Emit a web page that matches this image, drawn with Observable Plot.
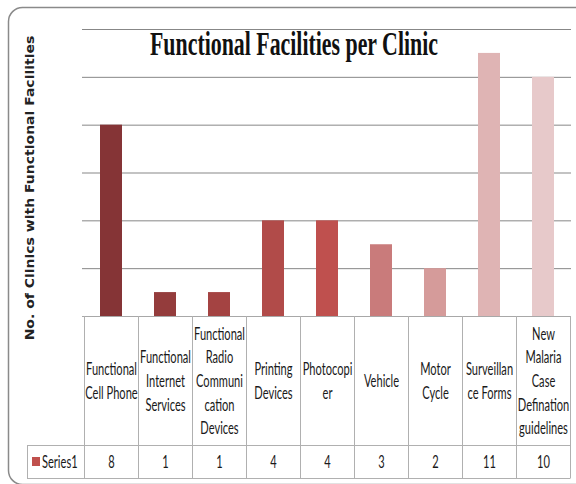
<!DOCTYPE html>
<html>
<head>
<meta charset="utf-8">
<script src="https://cdn.jsdelivr.net/npm/d3@7"></script>
<script src="https://cdn.jsdelivr.net/npm/@observablehq/plot@0.6"></script>
<style>
  html, body { margin: 0; padding: 0; background: #fff; }
  #chart { position: relative; width: 576px; height: 484px; overflow: hidden; }
</style>
</head>
<body>
<div id="chart"></div>
<script>
const categories = ["Functional Cell Phone", "Functional Internet Services", "Functional Radio Communication Devices", "Printing Devices", "Photocopier", "Vehicle", "Motor Cycle", "Surveillance Forms", "New Malaria Case Defination guidelines"];
const labelLines = ["Functional\nCell Phone", "Functional\nInternet\nServices", "Functional\nRadio\nCommuni\ncation\nDevices", "Printing\nDevices", "Photocopi\ner", "Vehicle", "Motor\nCycle", "Surveillan\nce Forms", "New\nMalaria\nCase\nDefination\nguidelines"];
const values = [8, 1, 1, 4, 4, 3, 2, 11, 10];
const barColors = ["#853436", "#943c3c", "#a44342", "#b14b49", "#bf504e", "#c97b7b", "#d59b9a", "#dfb4b4", "#e7c9ca"];
const gridTicks = [2, 4, 6, 8, 10, 12];
const seriesName = "Series1";
const seriesColor = "#c0504d";
const titleText = "Functional Facilities per Clinic";
const yLabelText = "No. of Clinics with Functional Facilities";

const data = categories.map((c, i) => ({cat: c, label: labelLines[i], value: values[i], color: barColors[i]}));

const W = 576, H = 484, mL = 82, mR = 5, mT = 29, mB = 168;
const frameBottom = H - mB;        // 316
const rowSplit = 445, tableBottom = 478, tableLeft = 27;
const bodyFont = "Lato, 'Open Sans', sans-serif";
const fs = 17;

const chart = Plot.plot({
  width: W, height: H,
  marginLeft: mL, marginRight: mR, marginTop: mT, marginBottom: mB,
  x: {domain: categories, padding: 0, axis: null},
  y: {domain: [0, 12], axis: null},
  color: {type: "identity"},
  style: {fontFamily: bodyFont, background: "#fff", color: "#222"},
  marks: [
    Plot.ruleY(gridTicks, {stroke: "#878787", strokeWidth: 1, strokeOpacity: 1}),
    Plot.barY(data, {x: "cat", y: "value", fill: "color", insetLeft: 16, insetRight: 16}),
    Plot.ruleY([0], {stroke: "#a8a8a8", strokeWidth: 1, strokeOpacity: 1}),
    Plot.text(data, {x: "cat", text: "label", frameAnchor: "bottom", dy: 63, lineAnchor: "middle",
      lineHeight: 23.6 / fs, fontSize: fs, fill: "#1a1a1a"}),
    Plot.text(data, {x: "cat", text: d => String(d.value), frameAnchor: "bottom", dy: 146, lineAnchor: "middle",
      fontSize: fs, fill: "#1a1a1a"})
  ]
});

document.getElementById("chart").appendChild(chart);
const svg = d3.select(chart);

// measure the body font so lines are condensed like the narrow original face
const probe = svg.append("text").attr("font-family", bodyFont).attr("font-size", fs).text("Functional");
const probeW = probe.node().getComputedTextLength() || 75;
probe.remove();
const condensed = Math.min(1, 51 / probeW);

svg.selectAll('g[aria-label="text"] text').each(function() {
  const t = d3.select(this);
  t.attr("transform", (t.attr("transform") || "") + ` scale(${condensed},1)`);
});

// data table grid lines, positioned from Plot's x scale
const xs = chart.scale("x");
const bw = xs.bandwidth;
const bounds = categories.map(c => xs.apply(c)).concat([xs.apply(categories[categories.length - 1]) + bw]);
const grid = svg.append("g").attr("stroke", "#b0b0b0").attr("stroke-width", 1).attr("fill", "none");
bounds.forEach(x => {
  grid.append("line").attr("x1", Math.round(x) + 0.5).attr("x2", Math.round(x) + 0.5)
    .attr("y1", frameBottom).attr("y2", tableBottom);
});
grid.append("line").attr("x1", tableLeft + 0.5).attr("x2", tableLeft + 0.5).attr("y1", rowSplit).attr("y2", tableBottom);
[rowSplit, tableBottom].forEach(y => {
  grid.append("line").attr("x1", tableLeft).attr("x2", Math.round(bounds[bounds.length - 1]) + 0.5)
    .attr("y1", y + 0.5).attr("y2", y + 0.5);
});

// legend key in table
svg.append("rect").attr("x", 32).attr("y", 457).attr("width", 8).attr("height", 9).attr("fill", seriesColor);
svg.append("text").attr("transform", `translate(42,462) scale(${condensed},1)`).attr("text-anchor", "start")
  .attr("dy", "0.35em").attr("font-size", fs).attr("font-family", bodyFont).attr("fill", "#1a1a1a").text(seriesName);

// title (condensed bold serif)
const title = svg.append("text").attr("text-anchor", "middle")
  .attr("font-family", "'Liberation Serif', 'Times New Roman', serif").attr("font-weight", "bold")
  .attr("font-size", 34).attr("fill", "#111").text(titleText);
const titleW = title.node().getComputedTextLength() || 450;
title.attr("transform", `translate(294,55) scale(${288 / titleW},1)`);

// y-axis title
const ylab = svg.append("text").attr("text-anchor", "middle")
  .attr("font-family", "'DejaVu Sans', Verdana, sans-serif").attr("font-weight", "bold")
  .attr("font-size", 11.5).attr("fill", "#222").text(yLabelText);
const ylabW = ylab.node().getComputedTextLength() || 305;
ylab.attr("transform", `translate(34,188) rotate(-90) scale(${305 / ylabW},1)`);

// rounded chart border
svg.append("rect").attr("x", 8.5).attr("y", 7.5).attr("width", 580).attr("height", 477).attr("rx", 14)
  .attr("fill", "none").attr("stroke", "#8a8a8a").attr("stroke-width", 1.5);
</script>
</body>
</html>
